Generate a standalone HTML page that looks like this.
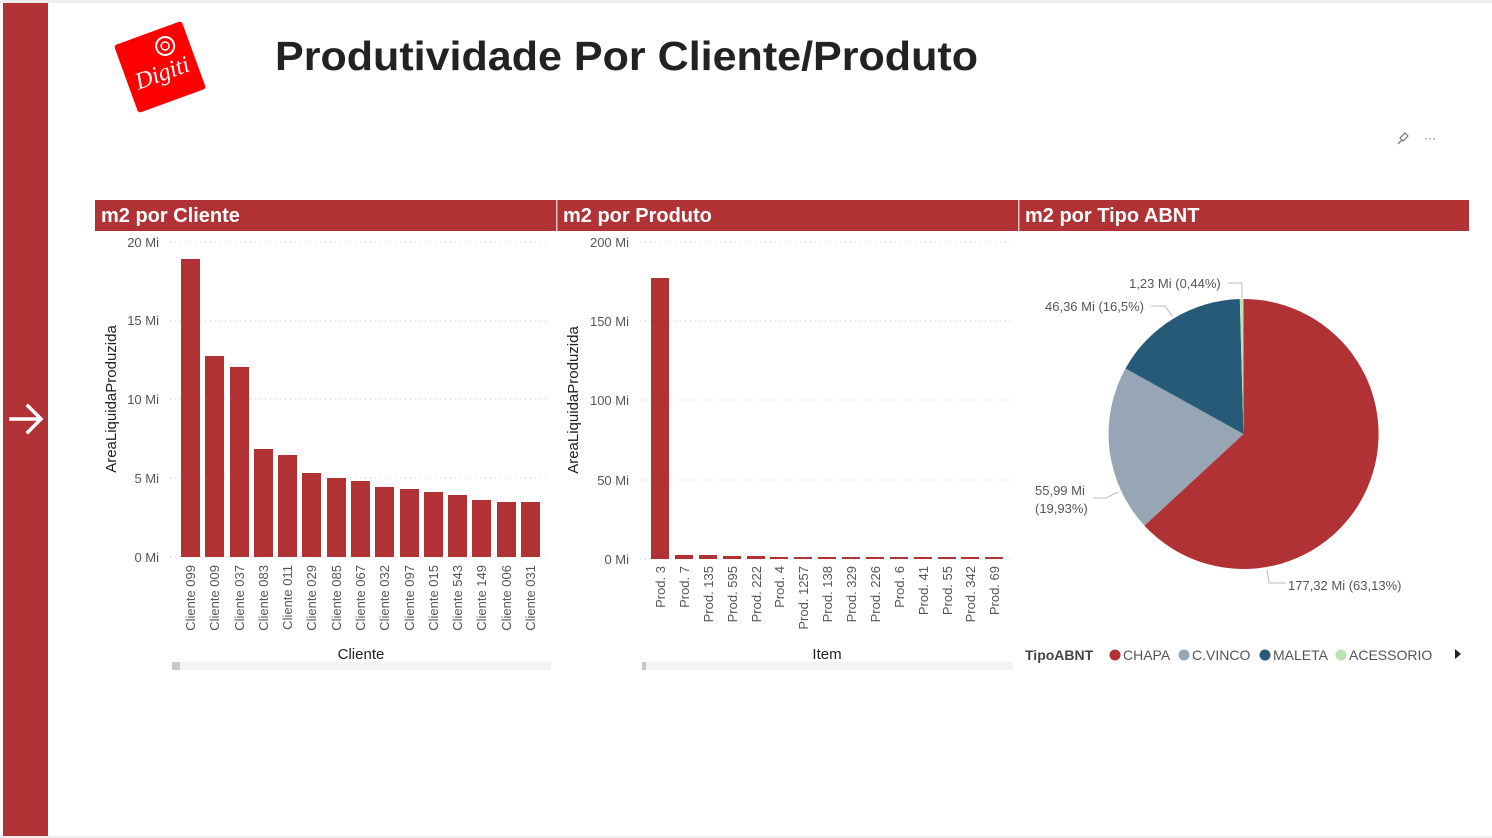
<!DOCTYPE html>
<html><head><meta charset="utf-8"><style>
body{margin:0;background:#fff;}
svg{display:block;font-family:"Liberation Sans",sans-serif;}
</style></head><body>
<svg width="1492" height="838" viewBox="0 0 1492 838">
<rect x="0" y="0" width="1492" height="3" fill="#eeeeee"/>
<rect x="0" y="836" width="1492" height="2" fill="#eeeeee"/>
<rect x="3" y="3" width="45" height="833" fill="#b03234"/>
<g stroke="#fff" stroke-width="3.5" fill="none" stroke-linecap="square"><line x1="11" y1="419" x2="40" y2="419"/><polyline points="28,406 41,419 28,432"/></g>
<!-- logo -->
<g transform="translate(160,67) rotate(-20)"><rect x="-36" y="-36" width="72" height="72" rx="3" fill="#ff0000"/>
<text x="-28" y="14" font-family="Liberation Serif,serif" font-style="italic" font-size="24" fill="#fff" textLength="56" lengthAdjust="spacingAndGlyphs">Digiti</text>
<circle cx="12" cy="-18" r="9" fill="none" stroke="#fff" stroke-width="2"/><circle cx="12" cy="-18" r="4" fill="none" stroke="#fff" stroke-width="1.5"/></g>
<text x="275" y="70" font-size="41" font-weight="bold" fill="#222" textLength="703" lengthAdjust="spacingAndGlyphs">Produtividade Por Cliente/Produto</text>
<!-- pin & dots -->
<g stroke="#666" fill="none" stroke-width="1"><path d="M1398,144 L1402,140 M1400,138 L1405,133 L1408,136 L1403,141 Z"/></g>
<text x="1424" y="142" font-size="12" fill="#666">···</text>
<!-- header bars -->
<rect x="95" y="200" width="1374" height="31" fill="#b03234"/>
<rect x="556" y="200" width="1.5" height="31" fill="#fff" opacity="0.7"/>
<rect x="1018" y="200" width="1.5" height="31" fill="#fff" opacity="0.7"/>
<g font-size="20" font-weight="bold" fill="#fff"><text x="101" y="222">m2 por Cliente</text><text x="563" y="222">m2 por Produto</text><text x="1025" y="222">m2 por Tipo ABNT</text></g>
<!-- chart 1 -->
<g stroke="#ccc" stroke-dasharray="1,4"><line x1="170" x2="548" y1="242" y2="242"/><line x1="170" x2="548" y1="321" y2="321"/><line x1="170" x2="548" y1="399" y2="399"/><line x1="170" x2="548" y1="478" y2="478"/><line x1="170" x2="548" y1="557" y2="557"/></g>
<g font-size="13" fill="#555" text-anchor="end"><text x="159" y="247">20 Mi</text><text x="159" y="325">15 Mi</text><text x="159" y="404">10 Mi</text><text x="159" y="483">5 Mi</text><text x="159" y="562">0 Mi</text></g>
<text transform="translate(116,399) rotate(-90)" text-anchor="middle" font-size="15" fill="#222">AreaLiquidaProduzida</text>
<g fill="#b03234">
<rect x="181" y="259" width="19" height="298"/><rect x="205" y="356" width="19" height="201"/><rect x="230" y="367" width="19" height="190"/><rect x="254" y="449" width="19" height="108"/><rect x="278" y="455" width="19" height="102"/><rect x="302" y="473" width="19" height="84"/><rect x="327" y="478" width="19" height="79"/><rect x="351" y="481" width="19" height="76"/><rect x="375" y="487" width="19" height="70"/><rect x="400" y="489" width="19" height="68"/><rect x="424" y="492" width="19" height="65"/><rect x="448" y="495" width="19" height="62"/><rect x="472" y="500" width="19" height="57"/><rect x="497" y="502" width="19" height="55"/><rect x="521" y="502" width="19" height="55"/>
</g>
<g font-size="13" fill="#555" text-anchor="end">
<text transform="translate(195,565) rotate(-90)">Cliente 099</text><text transform="translate(219,565) rotate(-90)">Cliente 009</text><text transform="translate(244,565) rotate(-90)">Cliente 037</text><text transform="translate(268,565) rotate(-90)">Cliente 083</text><text transform="translate(292,565) rotate(-90)">Cliente 011</text><text transform="translate(316,565) rotate(-90)">Cliente 029</text><text transform="translate(341,565) rotate(-90)">Cliente 085</text><text transform="translate(365,565) rotate(-90)">Cliente 067</text><text transform="translate(389,565) rotate(-90)">Cliente 032</text><text transform="translate(414,565) rotate(-90)">Cliente 097</text><text transform="translate(438,565) rotate(-90)">Cliente 015</text><text transform="translate(462,565) rotate(-90)">Cliente 543</text><text transform="translate(486,565) rotate(-90)">Cliente 149</text><text transform="translate(511,565) rotate(-90)">Cliente 006</text><text transform="translate(535,565) rotate(-90)">Cliente 031</text>
</g>
<text x="361" y="659" text-anchor="middle" font-size="15" fill="#222">Cliente</text>
<rect x="172" y="662" width="379" height="8" fill="#f3f3f3"/><rect x="172" y="662" width="8" height="8" fill="#c8c8c8"/>
<!-- chart 2 -->
<g stroke="#ccc" stroke-dasharray="1,4"><line x1="640" x2="1014" y1="242" y2="242"/><line x1="640" x2="1014" y1="321" y2="321"/><line x1="640" x2="1014" y1="400" y2="400"/><line x1="640" x2="1014" y1="480" y2="480"/><line x1="640" x2="1014" y1="559" y2="559"/></g>
<g font-size="13" fill="#555" text-anchor="end"><text x="629" y="247">200 Mi</text><text x="629" y="326">150 Mi</text><text x="629" y="405">100 Mi</text><text x="629" y="485">50 Mi</text><text x="629" y="564">0 Mi</text></g>
<text transform="translate(578,400) rotate(-90)" text-anchor="middle" font-size="15" fill="#222">AreaLiquidaProduzida</text>
<g fill="#b03234">
<rect x="651" y="278" width="18" height="281"/><rect x="675" y="555" width="18" height="4"/><rect x="699" y="555" width="18" height="4"/><rect x="723" y="556" width="18" height="3"/><rect x="747" y="556" width="18" height="3"/><rect x="770" y="557" width="18" height="2"/><rect x="794" y="557" width="18" height="2"/><rect x="818" y="557" width="18" height="2"/><rect x="842" y="557" width="18" height="2"/><rect x="866" y="557" width="18" height="2"/><rect x="890" y="557" width="18" height="2"/><rect x="914" y="557" width="18" height="2"/><rect x="938" y="557" width="18" height="2"/><rect x="961" y="557" width="18" height="2"/><rect x="985" y="557" width="18" height="2"/>
</g>
<g font-size="13" fill="#555" text-anchor="end">
<text transform="translate(665,566) rotate(-90)">Prod. 3</text><text transform="translate(689,566) rotate(-90)">Prod. 7</text><text transform="translate(713,566) rotate(-90)">Prod. 135</text><text transform="translate(737,566) rotate(-90)">Prod. 595</text><text transform="translate(761,566) rotate(-90)">Prod. 222</text><text transform="translate(784,566) rotate(-90)">Prod. 4</text><text transform="translate(808,566) rotate(-90)">Prod. 1257</text><text transform="translate(832,566) rotate(-90)">Prod. 138</text><text transform="translate(856,566) rotate(-90)">Prod. 329</text><text transform="translate(880,566) rotate(-90)">Prod. 226</text><text transform="translate(904,566) rotate(-90)">Prod. 6</text><text transform="translate(928,566) rotate(-90)">Prod. 41</text><text transform="translate(952,566) rotate(-90)">Prod. 55</text><text transform="translate(975,566) rotate(-90)">Prod. 342</text><text transform="translate(999,566) rotate(-90)">Prod. 69</text>
</g>
<text x="827" y="659" text-anchor="middle" font-size="15" fill="#222">Item</text>
<rect x="642" y="662" width="371" height="8" fill="#f3f3f3"/><rect x="642" y="662" width="4" height="8" fill="#c8c8c8"/>
<!-- pie -->
<path d="M1243.5,434 L1243.5,299 A135,135 0 1,1 1144.4,525.6 Z" fill="#b03234"/>
<path d="M1243.5,434 L1144.4,525.6 A135,135 0 0,1 1125.5,368.5 Z" fill="#97a6b4"/>
<path d="M1243.5,434 L1125.5,368.5 A135,135 0 0,1 1239.8,299.05 Z" fill="#265a76"/>
<path d="M1243.5,434 L1239.8,299.05 A135,135 0 0,1 1243.5,299 Z" fill="#b9e3b0"/>
<g stroke="#bbb" fill="none" stroke-width="1"><polyline points="1228,283 1242,283 1242,298"/><polyline points="1151,306 1165,306 1172,316"/><polyline points="1093,498 1106,498 1118,492"/><polyline points="1267,570 1269,583 1286,583"/></g>
<g font-size="13" fill="#555"><text x="1129" y="288">1,23 Mi (0,44%)</text><text x="1045" y="311">46,36 Mi (16,5%)</text><text x="1035" y="495">55,99 Mi</text><text x="1035" y="513">(19,93%)</text><text x="1288" y="590">177,32 Mi (63,13%)</text></g>
<text x="1025" y="660" font-size="14" font-weight="bold" fill="#444">TipoABNT</text>
<g font-size="14" fill="#555"><circle cx="1115" cy="655" r="5.5" fill="#b03234"/><text x="1123" y="660">CHAPA</text><circle cx="1184" cy="655" r="5.5" fill="#97a6b4"/><text x="1192" y="660">C.VINCO</text><circle cx="1265" cy="655" r="5.5" fill="#265a76"/><text x="1273" y="660">MALETA</text><circle cx="1341" cy="655" r="5.5" fill="#b9e3b0"/><text x="1349" y="660">ACESSORIO</text></g>
<polygon points="1455,649 1461,654 1455,659" fill="#222"/>
</svg>
</body></html>
